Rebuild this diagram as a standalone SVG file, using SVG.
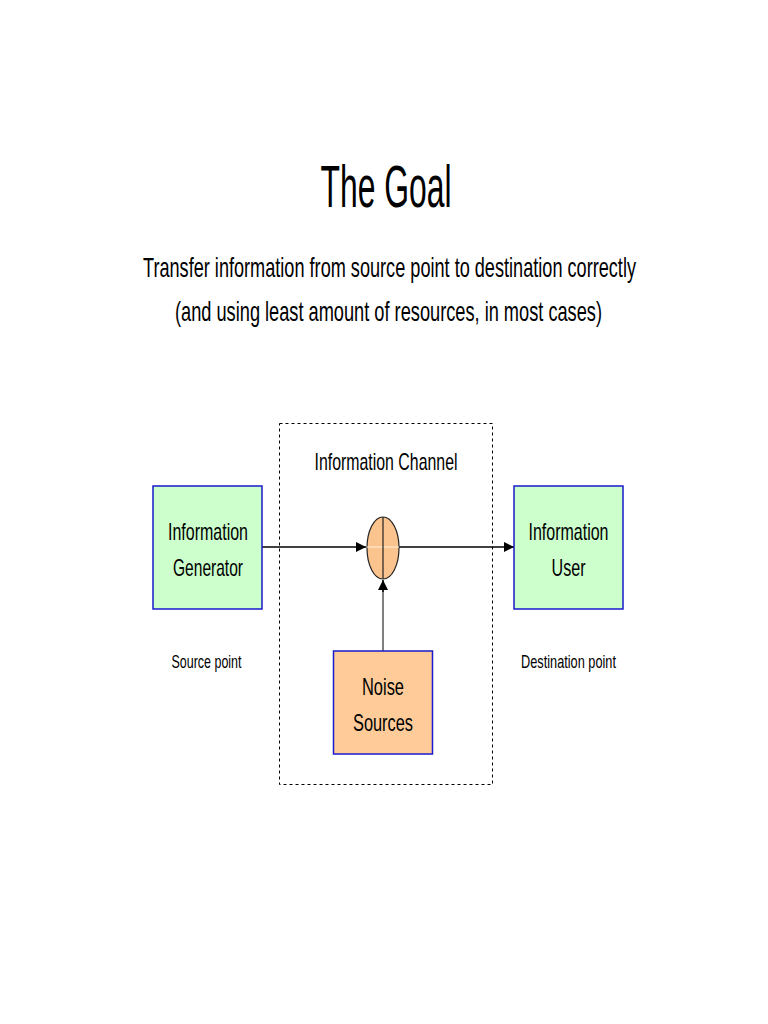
<svg xmlns="http://www.w3.org/2000/svg" width="768" height="1024" viewBox="0 0 768 1024">
<style>
text{font-family:"Liberation Sans",Arial,sans-serif;fill:#000;text-anchor:middle}
.box{stroke:#1a1acc;stroke-width:1.5}
.green{fill:#ccffcc}
.orange{fill:#ffcc99}
.conn{stroke:#000;stroke-width:1.5;fill:none}
</style>
<defs>
<marker id="ah" viewBox="0 0 10 10" refX="10" refY="5" markerWidth="10" markerHeight="10" markerUnits="userSpaceOnUse" orient="auto">
<path d="M0,0 L10,5 L0,10 z" fill="#000"/>
</marker>
</defs>
<rect width="768" height="1024" fill="#fff"/>
<g id="title">
<text x="386" y="207" font-size="60" textLength="131" lengthAdjust="spacingAndGlyphs">The Goal</text>
<text x="389.5" y="277" font-size="28" textLength="493" lengthAdjust="spacingAndGlyphs">Transfer information from source point to destination correctly</text>
<text x="388.5" y="321" font-size="28" textLength="427" lengthAdjust="spacingAndGlyphs">(and using least amount of resources, in most cases)</text>
</g>
<g id="channel">
<rect x="279.5" y="423.5" width="213" height="361" fill="none" stroke="#000" stroke-width="1" stroke-dasharray="3,3"/>
<text x="386" y="470" font-size="24" textLength="143" lengthAdjust="spacingAndGlyphs">Information Channel</text>
</g>
<g id="connectors">
<line class="conn" x1="262" y1="547" x2="366" y2="547" marker-end="url(#ah)"/>
<line class="conn" x1="399" y1="547" x2="514" y2="547" marker-end="url(#ah)"/>
<line x1="383" y1="651" x2="383" y2="590" stroke="#555" stroke-width="1.5"/>
<line class="conn" x1="383" y1="592" x2="383" y2="580" marker-end="url(#ah)"/>
</g>
<g id="generator">
<rect class="box green" x="153" y="486" width="109" height="123"/>
<text x="208" y="540" font-size="24" textLength="80" lengthAdjust="spacingAndGlyphs">Information</text>
<text x="208" y="576" font-size="24" textLength="70" lengthAdjust="spacingAndGlyphs">Generator</text>
</g>
<g id="user">
<rect class="box green" x="514" y="486" width="109" height="123"/>
<text x="568.5" y="540" font-size="24" textLength="80" lengthAdjust="spacingAndGlyphs">Information</text>
<text x="568.5" y="576" font-size="24" textLength="34" lengthAdjust="spacingAndGlyphs">User</text>
</g>
<g id="adder">
<ellipse cx="383" cy="548" rx="16" ry="31" fill="#fbc48e" stroke="#222" stroke-width="1.2"/>
<line x1="367" y1="547" x2="399" y2="547" stroke="#fff0dc" stroke-width="1"/>
<line x1="383" y1="517" x2="383" y2="579" stroke="#222" stroke-width="1.2"/>
</g>
<g id="noise">
<rect class="box orange" x="333.5" y="651" width="99" height="103"/>
<text x="383" y="695" font-size="24" textLength="42" lengthAdjust="spacingAndGlyphs">Noise</text>
<text x="383" y="731" font-size="24" textLength="60" lengthAdjust="spacingAndGlyphs">Sources</text>
</g>
<g id="labels">
<text x="206.5" y="668" font-size="19" textLength="70" lengthAdjust="spacingAndGlyphs">Source point</text>
<text x="568.5" y="668" font-size="19" textLength="95" lengthAdjust="spacingAndGlyphs">Destination point</text>
</g>
</svg>
